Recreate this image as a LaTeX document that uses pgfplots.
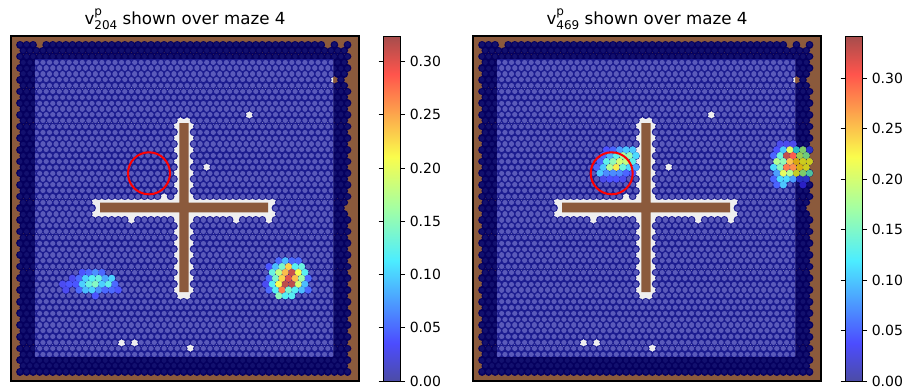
\documentclass[border=0pt]{standalone}
\usepackage{fontspec}
\setmainfont{DejaVu Sans}
\usepackage{pgfplots}
\usepackage{pgfplotstable}
\pgfplotsset{compat=1.18}

% 1 data unit = 1 reference pixel = 0.75pt, panel coordinates with y downwards
\definecolor{wallbrown}{HTML}{8B5A3C}
\definecolor{bandgap}{HTML}{05005E}
\definecolor{banddot}{HTML}{12106E}
\definecolor{floorgap}{HTML}{1C1C90}
\definecolor{floordot}{HTML}{5A5ABA}
\definecolor{floorbase}{HTML}{EFEFEF}

\pgfplotsset{
  colormap={jetw}{rgb(0)=(.3,.3,.65); rgb(11)=(.3,.3,1); rgb(35)=(.3,.93,1); rgb(50)=(.64,1,.64); rgb(65)=(.98,.99,.3); rgb(89)=(1,.33,.3); rgb(100)=(.65,.3,.3)},
  colormap={jetb}{rgb(0)=(.165,.105,.422); rgb(11)=(.165,.105,.772); rgb(35)=(.165,.735,.772); rgb(50)=(.5,.8,.41); rgb(65)=(.85,.8,.07); rgb(89)=(.865,.15,.072); rgb(100)=(.515,.105,.072)},
  panel/.style={scale only axis, width=261pt, height=258.75pt, xmin=0, xmax=348, ymin=0, ymax=345, y dir=reverse},
  inner/.style={scale only axis, hide axis, width=223.5pt, height=222.75pt, xmin=24, xmax=322, ymin=23, ymax=320, y dir=reverse, anchor=south west},
  hexrow/.style={no marks, unbounded coords=jump, line cap=round, dash pattern=on 0.01pt off 4.9025pt},
  hot/.style={scatter, only marks, mark=*, mark size=2.45pt, scatter src=explicit, scatter/use mapped color={draw=mapped color, fill=mapped color}},
  top/.style={panel, xtick=\empty, ytick=\empty, axis line style={line width=.8pt}, colormap name=jetw,
    title style={font=\fontsize{12.5pt}{15pt}\selectfont, yshift=-4.5pt}, colorbar,
    colorbar style={at={(parent axis.north east)}, anchor=north west, xshift=9.75pt, width=12.75pt, height=258.75pt, scale only axis,
      ytick={0,0.05,0.10,0.15,0.20,0.25,0.30}, yticklabels={0.00,0.05,0.10,0.15,0.20,0.25,0.30},
      yticklabel style={font=\fontsize{10.5pt}{12pt}\selectfont}, axis line style={line width=.6pt}, tick style={black, line width=.6pt}, major tick length=3.5pt, tick align=outside}},
}

% every row of the hexagon grid, one line per run of cells between gaps
\pgfplotstableread{
x y
9 8.7
22.3 8.7
nan nan
35.2 8.7
310.5 8.7
nan nan
323.4 8.7
323.6 8.7
nan nan
336.5 8.7
336.7 8.7
nan nan
12.3 14.54
333.4 14.54
nan nan
9 20.38
336.7 20.38
nan nan
12.3 26.22
333.4 26.22
nan nan
9 32.06
336.7 32.06
nan nan
12.3 37.9
333.4 37.9
nan nan
9 43.74
317 43.74
nan nan
329.95 43.74
330.15 43.74
nan nan
12.3 49.58
333.4 49.58
nan nan
9 55.42
336.7 55.42
nan nan
12.3 61.26
333.4 61.26
nan nan
9 67.1
336.7 67.1
nan nan
12.3 72.94
333.4 72.94
nan nan
9 78.78
231.9 78.78
nan nan
244.8 78.78
336.7 78.78
nan nan
12.3 84.62
163.1 84.62
nan nan
182.6 84.62
333.4 84.62
nan nan
9 90.46
159.8 90.46
nan nan
185.85 90.46
336.7 90.46
nan nan
12.3 96.3
163.1 96.3
nan nan
182.6 96.3
333.4 96.3
nan nan
9 102.14
159.8 102.14
nan nan
185.85 102.14
336.7 102.14
nan nan
12.3 107.98
163.1 107.98
nan nan
182.6 107.98
333.4 107.98
nan nan
9 113.82
159.8 113.82
nan nan
185.85 113.82
336.7 113.82
nan nan
12.3 119.66
163.1 119.66
nan nan
182.6 119.66
333.4 119.66
nan nan
9 125.5
159.8 125.5
nan nan
185.85 125.5
336.7 125.5
nan nan
12.3 131.34
163.1 131.34
nan nan
182.6 131.34
189.3 131.34
nan nan
202.25 131.34
333.4 131.34
nan nan
9 137.18
159.8 137.18
nan nan
185.85 137.18
336.7 137.18
nan nan
12.3 143.02
163.1 143.02
nan nan
182.6 143.02
333.4 143.02
nan nan
9 148.86
159.8 148.86
nan nan
185.85 148.86
336.7 148.86
nan nan
12.3 154.7
163.1 154.7
nan nan
182.6 154.7
333.4 154.7
nan nan
9 160.54
146.7 160.54
nan nan
159.65 160.54
159.85 160.54
nan nan
185.85 160.54
336.7 160.54
nan nan
12.3 166.38
78 166.38
nan nan
267.75 166.38
333.4 166.38
nan nan
9 172.22
81.2 172.22
nan nan
264.45 172.22
330.1 172.22
nan nan
12.3 178.06
78 178.06
nan nan
267.75 178.06
333.4 178.06
nan nan
9 183.9
114 183.9
nan nan
126.9 183.9
159.8 183.9
nan nan
185.85 183.9
218.8 183.9
nan nan
231.7 183.9
251.5 183.9
nan nan
264.45 183.9
336.7 183.9
nan nan
12.3 189.74
163.1 189.74
nan nan
182.6 189.74
333.4 189.74
nan nan
9 195.58
159.8 195.58
nan nan
185.85 195.58
336.7 195.58
nan nan
12.3 201.42
163.1 201.42
nan nan
182.6 201.42
333.4 201.42
nan nan
9 207.26
159.8 207.26
nan nan
185.85 207.26
336.7 207.26
nan nan
12.3 213.1
163.1 213.1
nan nan
182.6 213.1
333.4 213.1
nan nan
9 218.94
159.8 218.94
nan nan
185.85 218.94
336.7 218.94
nan nan
12.3 224.78
163.1 224.78
nan nan
182.6 224.78
333.4 224.78
nan nan
9 230.62
159.8 230.62
nan nan
185.85 230.62
336.7 230.62
nan nan
12.3 236.46
163.1 236.46
nan nan
182.6 236.46
333.4 236.46
nan nan
9 242.3
159.8 242.3
nan nan
185.85 242.3
336.7 242.3
nan nan
12.3 248.14
163.1 248.14
nan nan
182.6 248.14
333.4 248.14
nan nan
9 253.98
159.8 253.98
nan nan
185.85 253.98
336.7 253.98
nan nan
12.3 259.82
163.1 259.82
nan nan
182.6 259.82
333.4 259.82
nan nan
9 265.66
336.7 265.66
nan nan
12.3 271.5
333.4 271.5
nan nan
9 277.34
336.7 277.34
nan nan
12.3 283.18
333.4 283.18
nan nan
9 289.02
336.7 289.02
nan nan
12.3 294.86
333.4 294.86
nan nan
9 300.7
336.7 300.7
nan nan
12.3 306.54
104.2 306.54
nan nan
117.1 306.54
117.3 306.54
nan nan
130.2 306.54
333.4 306.54
nan nan
9 312.38
172.9 312.38
nan nan
185.85 312.38
336.7 312.38
nan nan
12.3 318.22
333.4 318.22
nan nan
9 324.06
336.7 324.06
nan nan
12.3 329.9
333.4 329.9
nan nan
9 335.74
336.7 335.74
}\hexgrid

% walls
\pgfplotstableread{
x y
168.3 87
177.7 87
177.7 256
168.3 256
168.3 87
nan nan
89 166.7
257 166.7
257 176.3
89 176.3
89 166.7
}\crosswalls

% left panel, blob near the lower right
\pgfplotstableread{
x y v
267.75 224.78 .05
274.3 224.78 .09
280.85 224.78 .05
287.4 224.78 .05
257.9 230.62 .04
264.45 230.62 .09
271 230.62 .14
277.55 230.62 .23
284.1 230.62 .12
290.65 230.62 .13
261.2 236.46 .13
267.75 236.46 .18
274.3 236.46 .24
280.85 236.46 .31
287.4 236.46 .21
293.95 236.46 .12
257.9 242.3 .05
264.45 242.3 .14
271 242.3 .23
277.55 242.3 .30
284.1 242.3 .24
290.65 242.3 .16
297.2 242.3 .05
254.65 248.14 .03
261.2 248.14 .12
267.75 248.14 .21
274.3 248.14 .315
280.85 248.14 .315
287.4 248.14 .19
293.95 248.14 .09
257.9 253.98 .05
264.45 253.98 .12
271 253.98 .27
277.55 253.98 .14
284.1 253.98 .12
290.65 253.98 .09
297.2 253.98 .05
267.75 259.82 .15
274.3 259.82 .12
280.85 259.82 .12
}\blobA

% left panel, weak blob on the left
\pgfplotstableread{
x y v
71.25 236.46 .04
77.8 236.46 .05
84.35 236.46 .07
90.9 236.46 .05
61.4 242.3 .03
67.95 242.3 .05
74.5 242.3 .10
81.05 242.3 .12
87.6 242.3 .13
94.15 242.3 .08
100.7 242.3 .10
51.6 248.14 .03
58.15 248.14 .04
64.7 248.14 .04
71.25 248.14 .10
77.8 248.14 .13
84.35 248.14 .145
90.9 248.14 .10
97.45 248.14 .125
104 248.14 .05
54.85 253.98 .03
67.95 253.98 .05
74.5 253.98 .09
81.05 253.98 .10
87.6 253.98 .07
94.15 253.98 .05
100.7 253.98 .05
107.25 253.98 .04
84.35 259.82 .04
}\blobB

% right panel, blob under the circle
\pgfplotstableread{
x y v
133.45 113.82 .04
140 113.82 .05
146.55 113.82 .08
153.1 113.82 .10
159.65 113.82 .10
130.2 119.66 .05
136.75 119.66 .09
143.3 119.66 .13
149.85 119.66 .17
156.4 119.66 .16
162.95 119.66 .11
126.9 125.5 .05
133.45 125.5 .13
140 125.5 .16
146.55 125.5 .20
153.1 125.5 .19
159.65 125.5 .13
123.65 131.34 .05
130.2 131.34 .10
136.75 131.34 .18
143.3 131.34 .23
149.85 131.34 .14
156.4 131.34 .11
162.95 131.34 .08
126.9 137.18 .10
133.45 137.18 .07
140 137.18 .07
146.55 137.18 .07
153.1 137.18 .05
159.65 137.18 .04
130.2 143.02 .03
136.75 143.02 .04
143.3 143.02 .04
149.85 143.02 .03
}\blobC

% right panel, blob at the wall, cells over the floor
\pgfplotstableread{
x y v
307.05 107.98 .03
313.6 107.98 .03
320.15 107.98 .03
303.75 113.82 .04
310.3 113.82 .10
316.85 113.82 .21
300.5 119.66 .05
307.05 119.66 .14
313.6 119.66 .33
320.15 119.66 .30
303.75 125.5 .18
310.3 125.5 .16
316.85 125.5 .25
300.5 131.34 .11
307.05 131.34 .155
313.6 131.34 .285
320.15 131.34 .275
303.75 137.18 .08
310.3 137.18 .21
316.85 137.18 .18
300.5 143.02 .05
307.05 143.02 .11
313.6 143.02 .11
320.15 143.02 .08
303.75 148.86 .05
310.3 148.86 .10
}\blobD

% same blob, cells over the brown border
\pgfplotstableread{
x y v
323.4 113.82 .12
329.95 113.82 .17
336.5 113.82 .05
326.7 119.66 .185
333.25 119.66 .16
323.4 125.5 .24
329.95 125.5 .215
336.5 125.5 .215
326.7 131.34 .235
333.25 131.34 .215
323.4 137.18 .21
329.95 137.18 .17
336.5 137.18 .14
326.7 143.02 .05
333.25 143.02 .05
329.95 148.86 .04
}\blobE

\newcommand{\basepanel}[1]{%
  \begin{axis}[panel, hide axis, at={(#1,0)}]
    \addplot[draw=none, fill=wallbrown] coordinates {(0,0) (348,0) (348,345) (0,345)} \closedcycle;
    \addplot[hexrow, color=bandgap, line width=5.78pt] table[x=x,y=y] {\hexgrid};
    \addplot[hexrow, color=banddot, line width=3.7pt] table[x=x,y=y] {\hexgrid};
  \end{axis}
  \begin{axis}[inner, at={(#1+18pt,18.75pt)}]
    \addplot[draw=none, fill=floorbase] coordinates {(24,23) (322,23) (322,320) (24,320)} \closedcycle;
    \addplot[hexrow, color=floorgap, line width=5.78pt] table[x=x,y=y] {\hexgrid};
    \addplot[hexrow, color=floordot, line width=3.9pt] table[x=x,y=y] {\hexgrid};
  \end{axis}}

\begin{document}
\begin{tikzpicture}
\path[use as bounding box] (-8.25pt,-6.75pt) rectangle (670.5pt,285.75pt);

\basepanel{0pt}
\begin{axis}[top, at={(0pt,0)}, point meta min=0, point meta max=0.324,
  title={v\rlap{\raisebox{.5em}{\fontsize{9pt}{9pt}\selectfont p}}\raisebox{-.3em}{\fontsize{9pt}{9pt}\selectfont 204} shown over maze 4}]
  \addplot[draw=none, fill=wallbrown, unbounded coords=jump] table[x=x,y=y] {\crosswalls};
  \addplot[hot] table[x=x,y=y,meta=v] {\blobA};
  \addplot[hot] table[x=x,y=y,meta=v] {\blobB};
  \addplot[only marks, mark=o, mark size=15.75pt, mark options={draw=red, line width=1.5pt}] coordinates {(138,137.3)};
\end{axis}

\basepanel{346.5pt}
\begin{axis}[top, at={(346.5pt,0)}, point meta min=0, point meta max=0.3416,
  title={v\rlap{\raisebox{.5em}{\fontsize{9pt}{9pt}\selectfont p}}\raisebox{-.3em}{\fontsize{9pt}{9pt}\selectfont 469} shown over maze 4}]
  \addplot[draw=none, fill=wallbrown, unbounded coords=jump] table[x=x,y=y] {\crosswalls};
  \addplot[hot] table[x=x,y=y,meta=v] {\blobC};
  \addplot[hot] table[x=x,y=y,meta=v] {\blobD};
  \addplot[hot, colormap name=jetb] table[x=x,y=y,meta=v] {\blobE};
  \addplot[only marks, mark=o, mark size=15.75pt, mark options={draw=red, line width=1.5pt}] coordinates {(138.7,137.3)};
\end{axis}
\end{tikzpicture}
\end{document}
